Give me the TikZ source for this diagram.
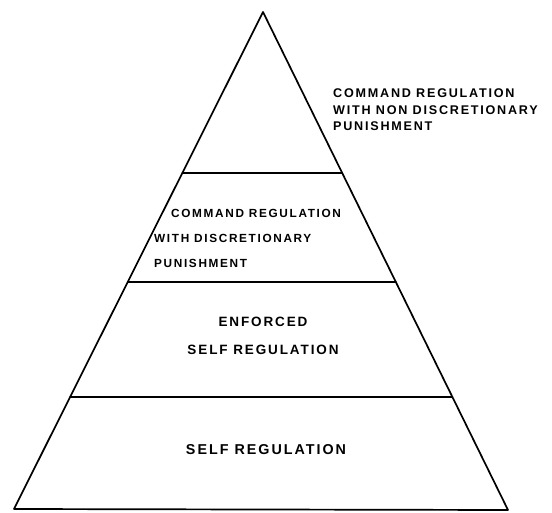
\documentclass[tikz,border=0pt]{standalone}
\usepackage{fontspec}
\newfontfamily\hand[LetterSpace=14]{Liberation Sans}
\begin{document}
\begin{tikzpicture}[x=1pt,y=-1pt,
  edge/.style={line width=1.7pt,line cap=round,line join=round},
  lbl/.style={inner sep=0pt}]
\useasboundingbox (0,0) rectangle (552,513);
\coordinate (A) at (263,12);
\coordinate (L) at (14,509);
\coordinate (R) at (508,510);
\draw[edge] (A) -- (L) -- (R) -- cycle;
% tier dividers
\coordinate (l1) at (intersection of A--L and 0,173--1,173);
\coordinate (r1) at (intersection of A--R and 0,173--1,173);
\coordinate (l2) at (intersection of A--L and 0,282--1,282);
\coordinate (r2) at (intersection of A--R and 0,282--1,282);
\coordinate (l3) at (intersection of A--L and 0,397--1,397);
\coordinate (r3) at (intersection of A--R and 0,397--1,397);
\draw[edge] (l1) -- (r1);
\draw[edge] (l2) -- (r2);
\draw[edge] (l3) -- (r3);
% labels
\node[lbl,anchor=north west,align=left,font=\hand\bfseries\fontsize{12.6}{16.5}\selectfont] (t1) at (333,89) {COMMAND REGULATION\\WITH NON DISCRETIONARY\\PUNISHMENT};
\node[lbl,anchor=north west,align=left,font=\hand\bfseries\fontsize{11.8}{25}\selectfont] (t2) at (154,209) {\hspace*{17pt}COMMAND REGULATION\\WITH DISCRETIONARY\\PUNISHMENT};
\node[lbl,align=center,font=\hand\bfseries\fontsize{13.5}{28}\selectfont] (t3) at (263,336) {ENFORCED\\SELF REGULATION};
\node[lbl,font=\hand\bfseries\fontsize{14.3}{16}\selectfont] (t4) at (266,450) {SELF REGULATION};
\end{tikzpicture}
\end{document}
